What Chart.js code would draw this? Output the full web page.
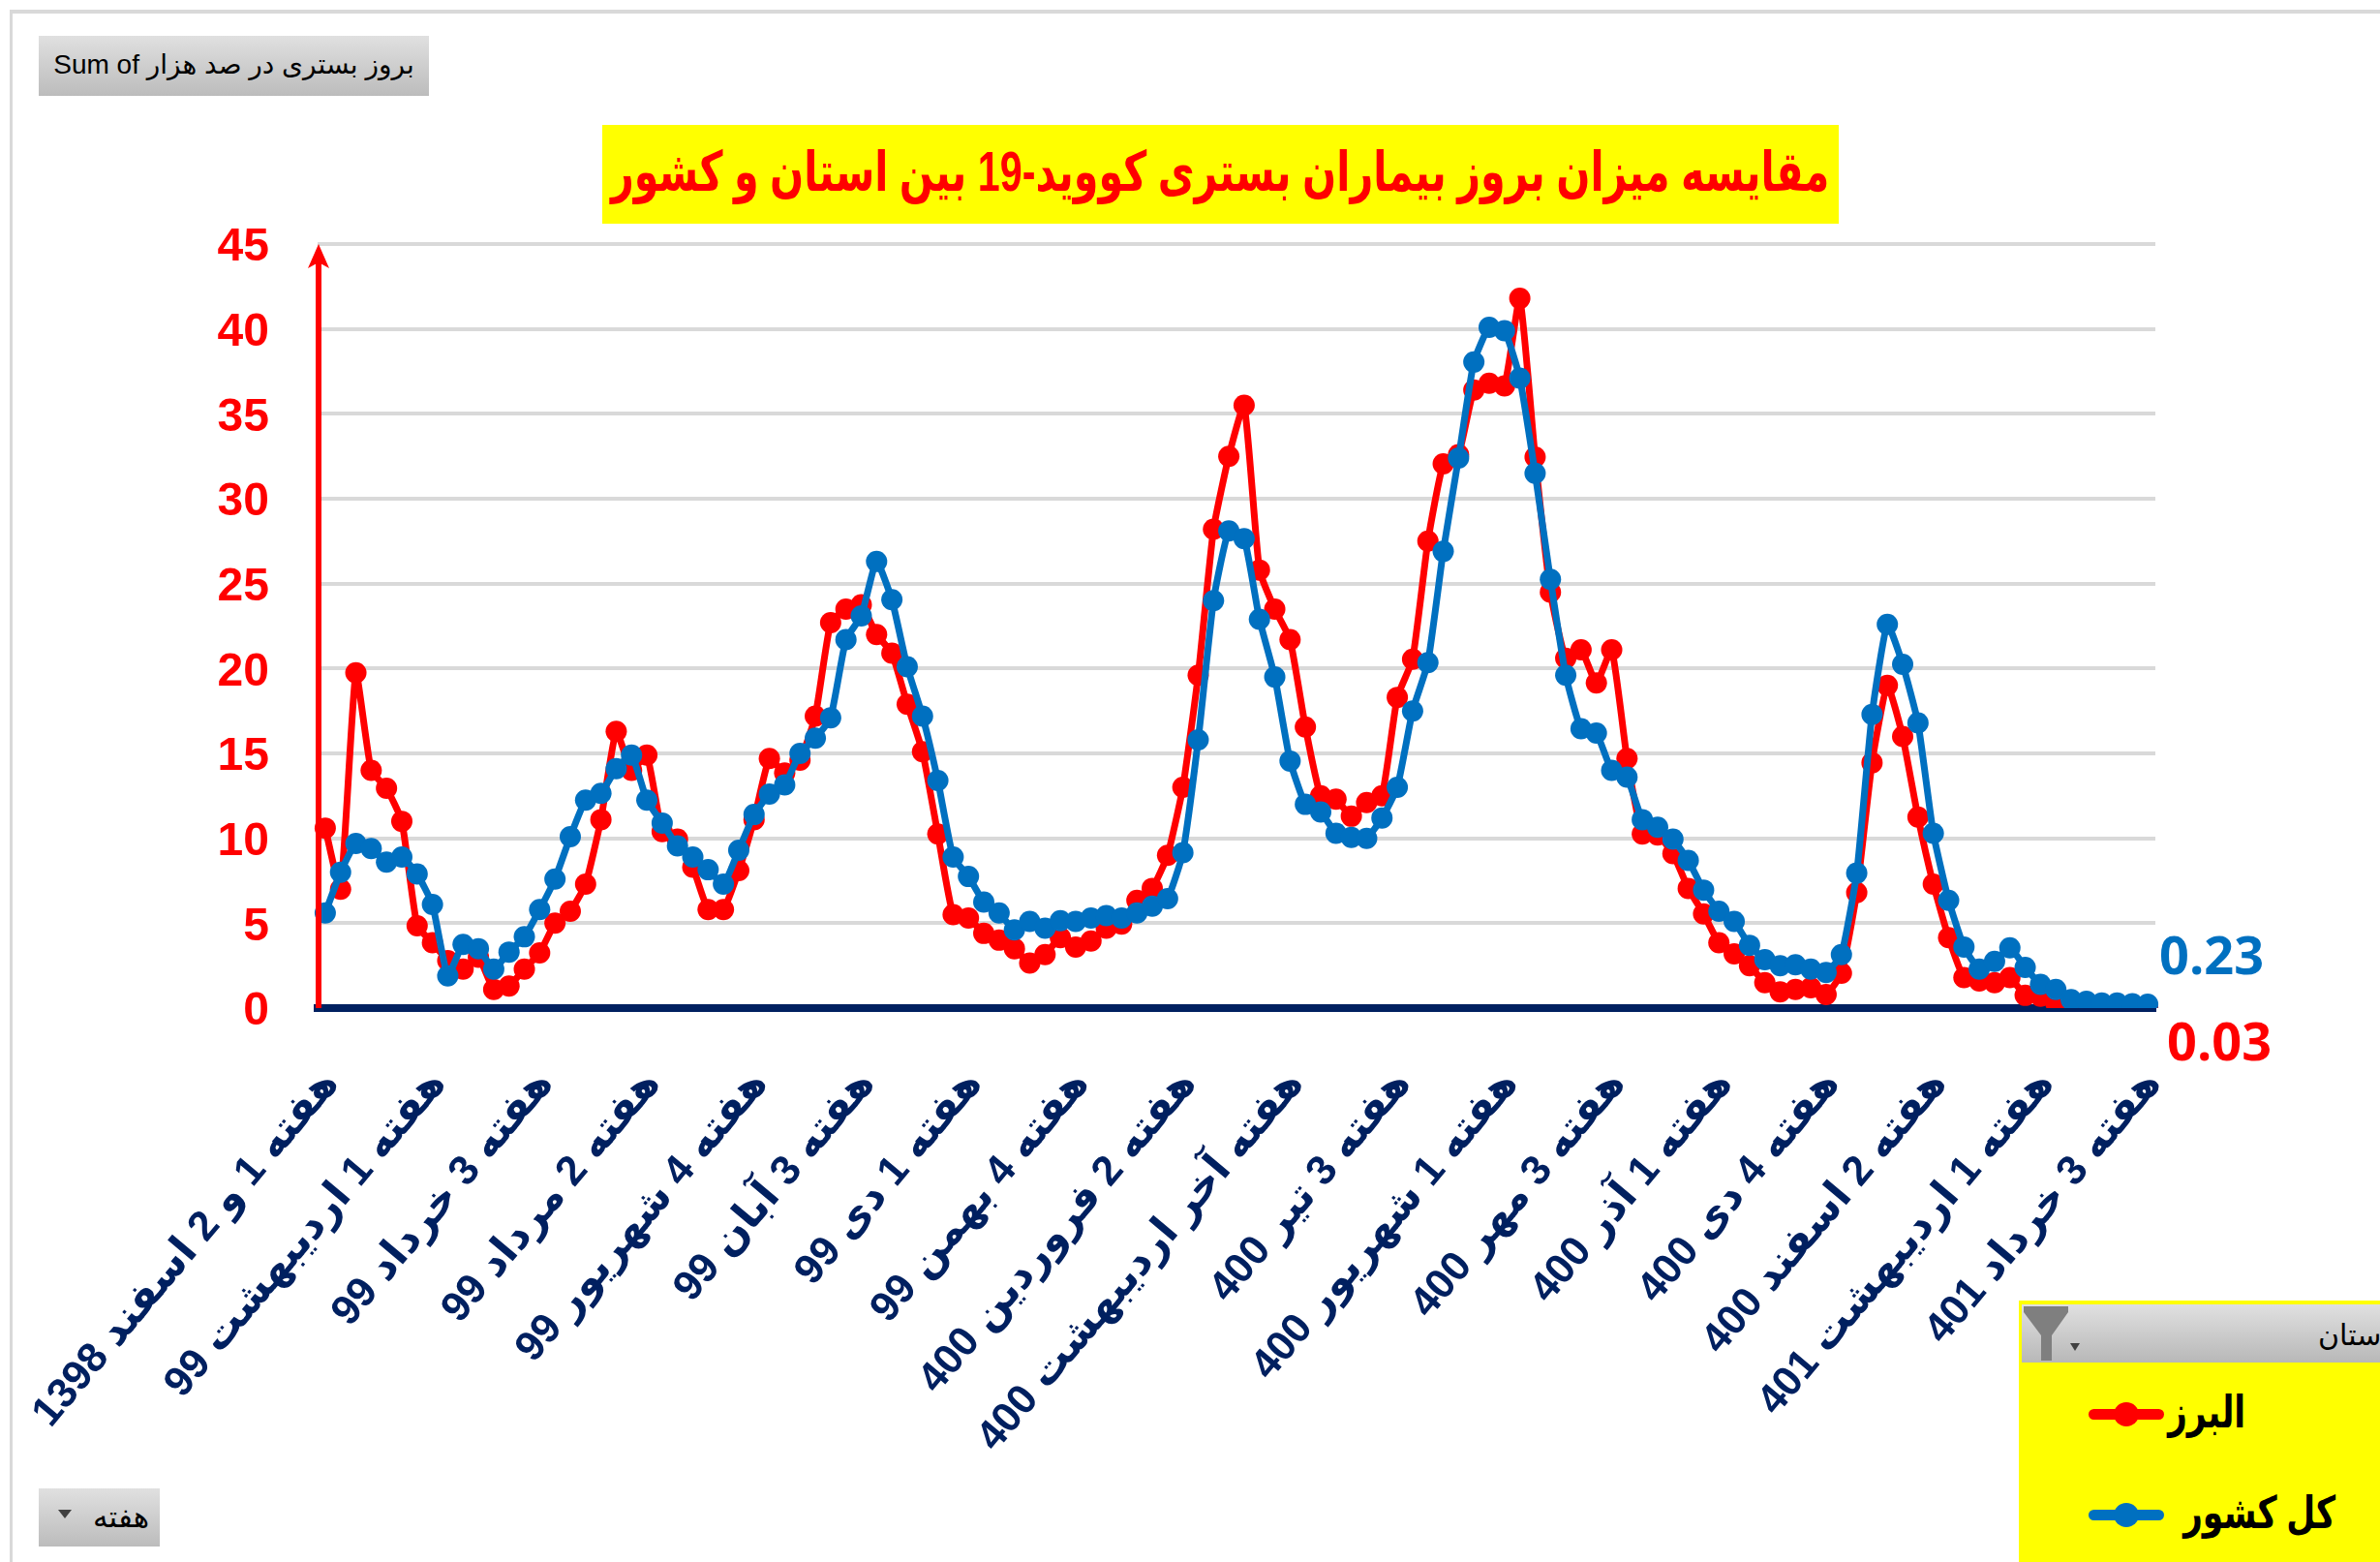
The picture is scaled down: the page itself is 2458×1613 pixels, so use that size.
<!DOCTYPE html>
<html>
<head>
<meta charset="utf-8">
<script src="https://cdn.jsdelivr.net/npm/chart.js@4"></script>
<style>
html, body { margin: 0; padding: 0; background: #fff; width: 2458px; height: 1613px; overflow: hidden; }
body { position: relative; font-family: 'Liberation Sans', 'DejaVu Sans', sans-serif; }
canvas { position: absolute; left: 0; top: 0; direction: rtl; }
.frame-top { position: absolute; left: 10px; top: 10px; right: 0; height: 4px; background: #d9d9d9; }
.frame-left { position: absolute; left: 10px; top: 10px; bottom: 0; width: 3px; background: #d9d9d9; }
.btn { position: absolute; background: linear-gradient(#e0e0e0, #bcbcbc); color: #000; white-space: nowrap; }
#title { position: absolute; left: 622px; top: 129px; width: 1277px; height: 102px; line-height: 96px; background: #ff0; color: #f00; font-weight: bold; font-size: 57px; text-align: center; direction: rtl; white-space: nowrap; }
#title span { display: inline-block; transform: scaleX(0.724); margin: 0 -300px; }
#sumBtn { left: 40px; top: 37px; width: 403px; height: 62px; line-height: 60px; font-size: 28px; text-align: center; direction: ltr; }
#weekBtn { left: 40px; top: 1537px; width: 125px; height: 60px; line-height: 60px; font-size: 31px; }
#weekBtn .txt { position: absolute; left: 56px; }
#weekBtn .arrow { position: absolute; left: 20px; top: 22px; width: 0; height: 0; border-left: 7px solid transparent; border-right: 7px solid transparent; border-top: 9px solid #404040; }
#slicer { position: absolute; left: 2085px; top: 1343px; width: 373px; height: 270px; background: #ff0; overflow: hidden; }
#slicerHead { position: absolute; left: 3px; top: 4px; width: 370px; height: 60px; background: linear-gradient(#e0e0e0, #b8b8b8); }
#slicerHead .txt { position: absolute; left: 306px; top: 14px; font-size: 30px; direction: rtl; white-space: nowrap; }
#slicerHead .arrow { position: absolute; left: 50px; top: 40px; width: 0; height: 0; border-left: 5px solid transparent; border-right: 5px solid transparent; border-top: 8px solid #404040; }
#funnel { position: absolute; left: 2px; top: 2px; }
.key { position: absolute; left: 72px; width: 78px; height: 11px; border-radius: 6px; }
.key i { position: absolute; left: 26px; top: -7px; width: 26px; height: 25px; border-radius: 50%; background: inherit; }
.name { position: absolute; font-weight: bold; font-size: 46px; color: #000; direction: rtl; white-space: nowrap; transform: scaleX(0.75); transform-origin: left center; }
</style>
</head>
<body>
<div class="frame-top"></div>
<div class="frame-left"></div>
<canvas id="chart" width="2458" height="1613"></canvas>
<div id="title"><span>مقایسه میزان بروز بیماران بستری کووید-19 بین استان و کشور</span></div>
<div class="btn" id="sumBtn">Sum of بروز بستری در صد هزار</div>
<div class="btn" id="weekBtn"><span class="arrow"></span><span class="txt">هفته</span></div>
<div id="slicer">
  <div id="slicerHead">
    <svg id="funnel" width="46" height="56" viewBox="0 0 46 56"><path d="M0 0H46V6L29 30V56H18V30L0 6Z" fill="#7f7f7f"/></svg>
    <span class="arrow"></span>
    <span class="txt">استان</span>
  </div>
  <div class="key" style="top:112px;background:#f00"><i></i></div>
  <div class="name" style="left:154px;top:88px">البرز</div>
  <div class="key" style="top:216px;background:#0070c0"><i></i></div>
  <div class="name" style="left:170px;top:192px">کل کشور</div>
</div>
<script>
// Week labels, one every 7 points
const tickLabels = [
    'هفته 1 و 2 اسفند 1398', 'هفته 1 اردیبهشت 99', 'هفته 3 خرداد 99', 'هفته 2 مرداد 99',
    'هفته 4 شهریور 99', 'هفته 3 آبان 99', 'هفته 1 دی 99', 'هفته 4 بهمن 99',
    'هفته 2 فروردین 400', 'هفته آخر اردیبهشت 400', 'هفته 3 تیر 400', 'هفته 1 شهریور 400',
    'هفته 3 مهر 400', 'هفته 1 آذر 400', 'هفته 4 دی 400', 'هفته 2 اسفند 400',
    'هفته 1 اردیبهشت 401', 'هفته 3 خرداد 401'
];

const alborz = [
    10.6, 7.0, 19.75, 14.0, 12.95, 11.0, 4.85, 3.85, 2.8, 2.3,
    3.0, 1.1, 1.3, 2.3, 3.25, 5.0, 5.7, 7.3, 11.1, 16.3,
    14.0, 14.9, 10.4, 9.95, 8.3, 5.8, 5.8, 8.1, 11.1, 14.7,
    13.85, 14.6, 17.2, 22.7, 23.5, 23.75, 22.0, 20.9, 17.9, 15.1,
    10.25, 5.5, 5.3, 4.4, 4.0, 3.5, 2.65, 3.15, 4.15, 3.6,
    3.95, 4.7, 4.95, 6.35, 7.05, 9.0, 13.0, 19.6, 28.2, 32.5,
    35.5, 25.8, 23.5, 21.7, 16.55, 12.5, 12.3, 11.3, 12.1, 12.5,
    18.3, 20.55, 27.5, 32.05, 32.6, 36.4, 36.8, 36.65, 41.8, 32.45,
    24.5, 20.6, 21.1, 19.15, 21.1, 14.7, 10.25, 10.2, 9.1, 7.05,
    5.55, 3.85, 3.2, 2.5, 1.5, 0.95, 1.1, 1.2, 0.8, 2.05,
    6.8, 14.45, 19.0, 16.0, 11.25, 7.3, 4.15, 1.8, 1.6, 1.5,
    1.8, 0.75, 0.7, 0.3, 0.15, 0.1, 0.1, 0.1, 0.15, 0.03
];

const country = [
    5.6, 8.0, 9.7, 9.4, 8.6, 8.9, 7.9, 6.1, 1.9, 3.75,
    3.5, 2.3, 3.3, 4.2, 5.8, 7.6, 10.1, 12.25, 12.65, 14.1,
    14.9, 12.25, 10.9, 9.55, 8.9, 8.15, 7.3, 9.3, 11.4, 12.6,
    13.15, 15.0, 15.9, 17.1, 21.7, 23.1, 26.3, 24.05, 20.1, 17.2,
    13.4, 8.9, 7.75, 6.25, 5.6, 4.6, 5.1, 4.7, 5.15, 5.1,
    5.3, 5.45, 5.3, 5.6, 6.0, 6.45, 9.15, 15.8, 24.0, 28.1,
    27.65, 22.9, 19.5, 14.55, 12.0, 11.55, 10.3, 10.05, 10.0, 11.2,
    13.0, 17.5, 20.35, 26.9, 32.4, 38.05, 40.1, 39.9, 37.1, 31.5,
    25.25, 19.6, 16.45, 16.2, 14.0, 13.6, 11.1, 10.65, 9.95, 8.7,
    6.95, 5.7, 5.1, 3.7, 2.85, 2.5, 2.55, 2.3, 2.1, 3.15,
    7.95, 17.3, 22.6, 20.25, 16.8, 10.3, 6.35, 3.6, 2.3, 2.75,
    3.55, 2.4, 1.4, 1.1, 0.5, 0.4, 0.3, 0.3, 0.25, 0.23
];

const categories = alborz.map((_, i) => (i % 7 === 0 ? tickLabels[i / 7] : ''));

const RED = '#ff0000';
const BLUE = '#0070c0';
const NAVY = '#002060';

// Red arrow on the y axis, and the two end values next to the last points
const extras = {
    id: 'extras',
    afterDatasetsDraw(chart) {
        const { ctx, scales: { x, y } } = chart;
        const axisX = x.left + 1;
        ctx.save();
        ctx.direction = 'ltr';
        ctx.strokeStyle = RED;
        ctx.fillStyle = RED;
        ctx.lineWidth = 6;
        ctx.beginPath();
        ctx.moveTo(axisX, y.getPixelForValue(0));
        ctx.lineTo(axisX, y.getPixelForValue(45) + 10);
        ctx.stroke();
        ctx.beginPath();
        ctx.moveTo(axisX, y.getPixelForValue(45));
        ctx.lineTo(axisX + 11, y.getPixelForValue(45) + 25);
        ctx.lineTo(axisX, y.getPixelForValue(45) + 19);
        ctx.lineTo(axisX - 11, y.getPixelForValue(45) + 25);
        ctx.closePath();
        ctx.fill();

        const last = alborz.length - 1;
        ctx.font = 'bold 54px "Open Sans", "Liberation Sans"';
        ctx.textAlign = 'left';
        ctx.textBaseline = 'middle';
        ctx.fillStyle = BLUE;
        ctx.fillText(country[last].toFixed(2), x.getPixelForValue(last) + 12, y.getPixelForValue(country[last]) - 46);
        ctx.fillStyle = RED;
        ctx.fillText(alborz[last].toFixed(2), x.getPixelForValue(last) + 20, y.getPixelForValue(alborz[last]) + 39);
        ctx.restore();
    }
};

new Chart(document.getElementById('chart').getContext('2d'), {
    type: 'line',
    data: {
        labels: categories,
        datasets: [
            { label: 'کل کشور', data: country, borderColor: BLUE, backgroundColor: BLUE, borderWidth: 7, pointRadius: 11, pointBackgroundColor: BLUE, pointBorderWidth: 0, tension: 0.15 },
            { label: 'البرز', data: alborz, borderColor: RED, backgroundColor: RED, borderWidth: 7, pointRadius: 11, pointBackgroundColor: RED, pointBorderWidth: 0, tension: 0.15 }
        ]
    },
    plugins: [extras],
    options: {
        responsive: false,
        animation: false,
        layout: { padding: { top: 252, right: 232, left: 0, bottom: 0 } },
        plugins: { legend: { display: false }, title: { display: false }, tooltip: { enabled: false } },
        scales: {
            x: {
                offset: true,
                afterFit(scale) {
                    scale.height = 572;
                    // long rotated labels must not push the plot to the right
                    scale.paddingLeft = 0;
                    scale.paddingRight = 0;
                },
                grid: { display: false, drawTicks: false },
                border: { color: NAVY, width: 8 },
                ticks: {
                    autoSkip: false,
                    minRotation: 50,
                    maxRotation: 50,
                    padding: 54,
                    labelOffset: 6,
                    color: NAVY,
                    font: { family: '"Liberation Sans", "DejaVu Sans"', size: 43, weight: 'bold' }
                }
            },
            y: {
                min: 0,
                max: 45,
                afterFit(scale) { scale.width = 328; },
                grid: { color: '#d9d9d9', lineWidth: 4, drawTicks: false },
                border: { display: false },
                ticks: {
                    stepSize: 5,
                    padding: 50,
                    labelOffset: 4,
                    color: RED,
                    font: { family: '"Liberation Sans"', size: 48, weight: 'bold' }
                }
            }
        }
    }
});
</script>
</body>
</html>
